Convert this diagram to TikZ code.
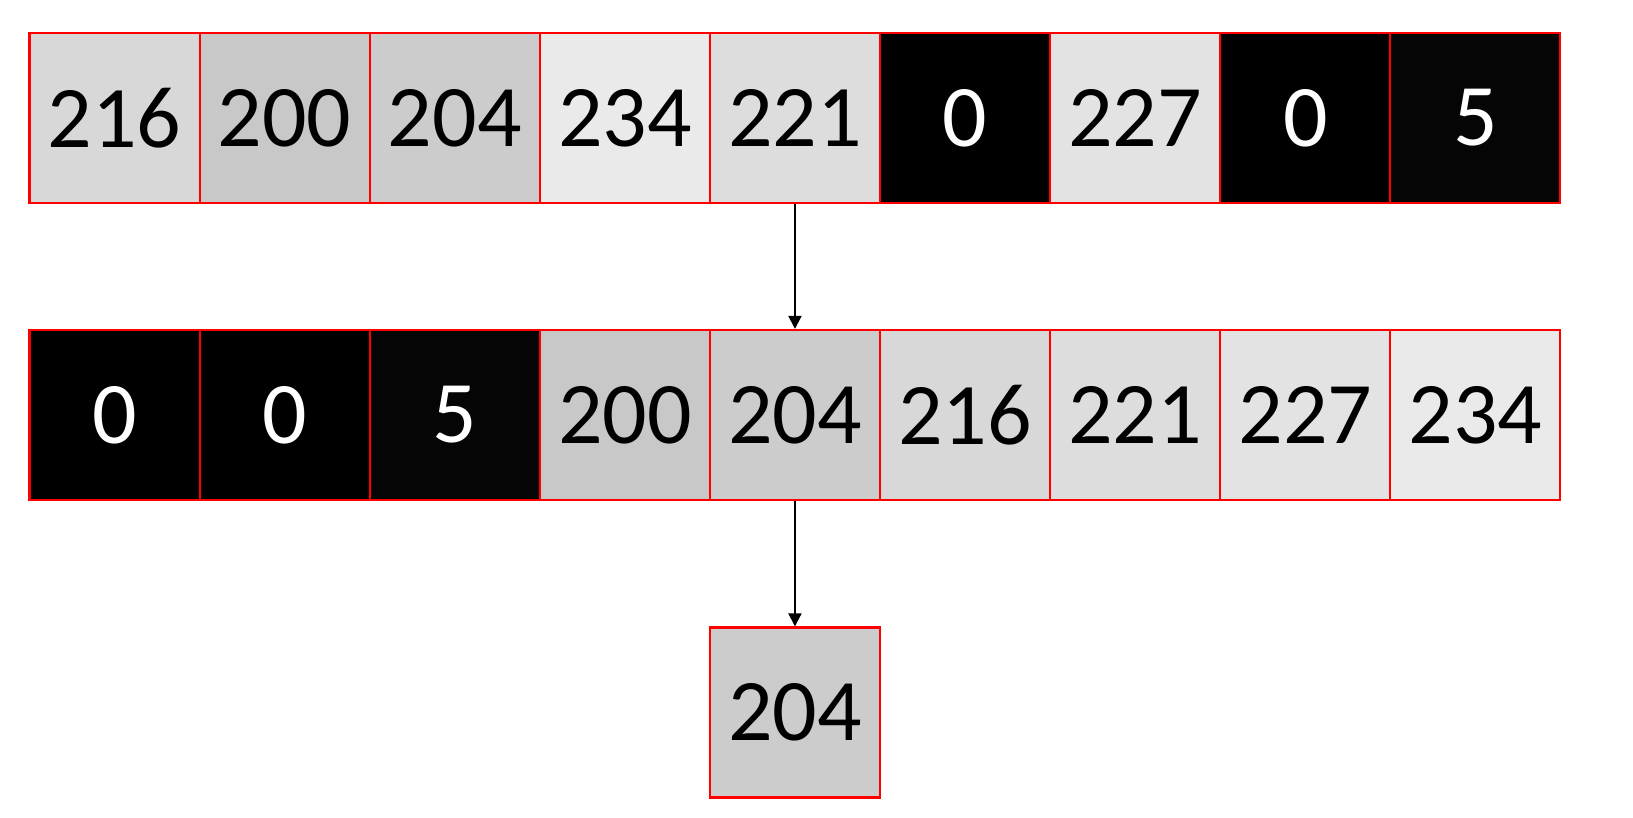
\documentclass[tikz,border=0pt]{standalone}
\usepackage{fontspec}
\setmainfont{Carlito}
\usetikzlibrary{arrows.meta}

\tikzset{
  pix/.style={minimum width=3.402cm, minimum height=3.402cm, inner sep=0pt,
    draw=red, line width=1.2pt, font=\fontsize{50}{60}\selectfont},
  link/.style={-{Triangle[width=0.26cm,length=0.26cm]}, line width=0.04cm},
}

\begin{document}
\begin{tikzpicture}
\useasboundingbox (0,0) rectangle (32.66,16.34);
% input window
\foreach \v [count=\i] in {216,200,204,234,221,0,227,0,5}{
  \ifnum\v<128 \def\tc{white}\else\def\tc{black}\fi
  \node[pix, fill={rgb,255:red,\v;green,\v;blue,\v}, text=\tc] (a\i)
    at ({0.59+3.402*(\i-0.5)},13.98) {\v};
}
% sorted
\foreach \v [count=\i] in {0,0,5,200,204,216,221,227,234}{
  \ifnum\v<128 \def\tc{white}\else\def\tc{black}\fi
  \node[pix, fill={rgb,255:red,\v;green,\v;blue,\v}, text=\tc] (b\i)
    at ({0.59+3.402*(\i-0.5)},8.04) {\v};
}
% median
\node[pix, fill={rgb,255:red,204;green,204;blue,204}] (med) at (b5 |- 0,2.09) {204};

\draw[link] (a5) -- (b5);
\draw[link] (b5) -- (med);
\end{tikzpicture}
\end{document}
